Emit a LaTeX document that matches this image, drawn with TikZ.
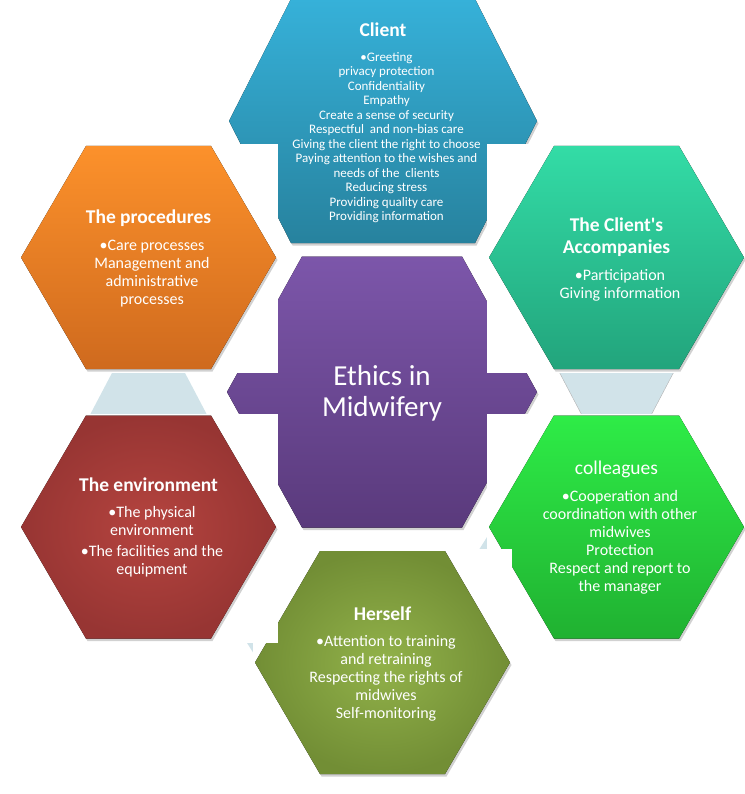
\documentclass[tikz,border=0pt]{standalone}
\usepackage{fontspec}
\setmainfont{Carlito}[Ligatures=TeXOff]
\usetikzlibrary{positioning,calc}

\definecolor{clTop}{HTML}{36B1D9}
\definecolor{clBot}{HTML}{27829E}
\definecolor{hubTop}{HTML}{7C56AA}
\definecolor{hubBot}{HTML}{5A3A7C}
\definecolor{prTop}{HTML}{FC912B}
\definecolor{prBot}{HTML}{CF6A1E}
\definecolor{acTop}{HTML}{33DCA6}
\definecolor{acBot}{HTML}{22A47C}
\definecolor{enIn}{HTML}{B5443F}
\definecolor{enOut}{HTML}{973533}
\definecolor{coTop}{HTML}{2EEC47}
\definecolor{coBot}{HTML}{20B131}
\definecolor{heIn}{HTML}{92B24A}
\definecolor{heOut}{HTML}{728E35}
\definecolor{linkblue}{HTML}{D1E3E9}

\newcommand\hexfill[4]{\fill[#4] (-#1,0) -- (-#1+#3,-#2) -- (#1-#3,-#2) -- (#1,0)
  -- (#1-#3,#2) -- (-#1+#3,#2) -- cycle;}
\newcommand\cell[2]{%
  \begin{scope}[shift={(#1)}]
    \fill[white] (-129.5,-113.5) rectangle (129.5,115.5);
    \begin{scope}[shift={(1.5,2.5)}]\hexfill{127.5}{111.5}{65}{hexshade}\end{scope}
    \hexfill{127.5}{111.5}{65}{#2}
  \end{scope}}

\begin{document}
\begin{tikzpicture}[x=1pt, y=-1pt,
    ttl/.style={anchor=base, text=white, inner sep=0pt, text depth=0pt, align=center,
                font=\fontsize{19.5}{21.5}\selectfont\bfseries},
    body/.style={text=white, inner sep=0pt, align=center, xshift=3.5pt,
                 font=\fontsize{16}{18}\selectfont},
    link/.style={fill=linkblue},
    hexshade/.style={fill=black!45, opacity=.4}]
  \useasboundingbox (0,0) rectangle (744,794);
  \coordinate (cl) at (383,121);
  \coordinate (hub) at (382,392);
  \coordinate (pr) at (148.5,257.5);
  \coordinate (ac) at (616.5,257.5);
  \coordinate (en) at (148.5,527);
  \coordinate (co) at (616.5,527);
  \coordinate (he) at (382.5,662.5);

  \fill[link] ($(en)!117.5pt!90:(pr)$) -- ($(en)!117.5pt!-90:(pr)$) -- ($(pr)!46pt!(en)$) -- cycle;
  \fill[link, draw=gray!60] ($(ac)!117.5pt!90:(co)$) -- ($(ac)!117.5pt!-90:(co)$) -- ($(co)!46pt!(ac)$) -- cycle;
  \fill[link] ($(co)!117.5pt!90:(he)$) -- ($(co)!117.5pt!-90:(he)$) -- ($(he)!46pt!(co)$) -- cycle;
  \fill[link] ($(he)!117.5pt!90:(en)$) -- ($(he)!117.5pt!-90:(en)$) -- ($(en)!46pt!(he)$) -- cycle;

  \begin{scope}[shift={(cl)}]
    \begin{scope}[shift={(1.5,2.5)}]\hexfill{154}{122}{62}{hexshade}\end{scope}
    \hexfill{154}{122}{62}{top color=clTop, bottom color=clBot}
  \end{scope}
  \begin{scope}[shift={(hub)}]
    \begin{scope}[shift={(1.5,2.5)}]\hexfill{155}{135.5}{75}{hexshade}\end{scope}
    \hexfill{155}{135.5}{75}{top color=hubTop, bottom color=hubBot}
  \end{scope}
  \cell{pr}{top color=prTop, bottom color=prBot}
  \cell{ac}{top color=acTop, bottom color=acBot}
  \cell{co}{top color=coTop, bottom color=coBot}
  \cell{he}{inner color=heIn, outer color=heOut}
  \cell{en}{inner color=enIn, outer color=enOut}

  \node[ttl] (clT) at (383,37) {Client};
  \node[body, font=\fontsize{13}{14.5}\selectfont, below=15pt of clT] (clB)
    {\textbullet Greeting\\privacy protection\\Confidentiality\\Empathy\\
     Create a sense of security\\Respectful~ and non-bias care\\
     Giving the client the right to choose\\Paying attention to the wishes and\\
     needs of the~ clients\\Reducing stress\\Providing quality care\\Providing information};

  \node[ttl] (prT) at (148.5,223.3) {The procedures};
  \node[body, below=16pt of prT] (prB)
    {\textbullet Care processes\\Management and\\administrative\\processes};

  \node[ttl] (acT) at (616.5,253.3) {The Client's\\Accompanies};
  \node[body, below=15.5pt of acT] (acB) {\textbullet Participation\\Giving information};

  \node[ttl] (hubT) at (382,416.7) [font=\fontsize{29}{31.7}\selectfont] {Ethics in\\Midwifery};

  \node[ttl] (enT) at (148.5,491.7) {The environment};
  \node[body, below=14.5pt of enT] (enB)
    {\textbullet The physical\\environment\\[3pt]\textbullet The facilities and the\\equipment};

  \node[ttl, font=\fontsize{19.5}{21.5}\selectfont] (coT) at (616.5,474) {colleagues};
  \node[body, below=16pt of coT] (coB)
    {\textbullet Cooperation and\\coordination with other\\midwives\\Protection\\
     Respect and report to\\the manager};

  \node[ttl] (heT) at (382.5,620) {Herself};
  \node[body, below=15.5pt of heT] (heB)
    {\textbullet Attention to training\\and retraining\\Respecting the rights of\\
     midwives\\Self-monitoring};
\end{tikzpicture}
\end{document}
